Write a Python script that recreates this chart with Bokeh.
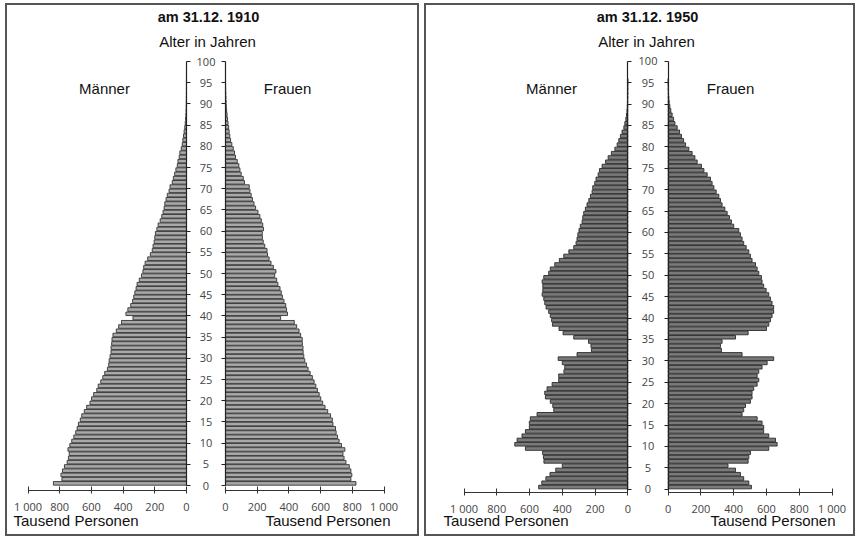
from bokeh.plotting import figure
from bokeh.models import Range1d, LinearAxis, FixedTicker, Label, ColumnDataSource
from bokeh.layouts import row
from bokeh.core.properties import value
from bokeh.embed import file_html
from bokeh.resources import INLINE

ages = list(range(96))

men_1910 = [840, 786, 792, 782, 770, 753, 745, 740, 748, 736,
            724, 711, 699, 690, 682, 670, 661, 645, 630, 609,
            599, 586, 566, 557, 541, 528, 516, 499, 491, 488,
            482, 476, 476, 472, 470, 464, 443, 428, 410, 338,
            382, 370, 352, 340, 333, 326, 318, 312, 298, 284,
            275, 270, 261, 245, 228, 216, 211, 204, 200, 196,
            187, 179, 166, 156, 148, 141, 137, 129, 121, 110,
            104, 90, 83, 75, 67, 58, 54, 46, 42, 33,
            27, 23, 19, 15, 11, 8, 6, 4, 3, 2,
            1.5, 1, 0.7, 0.5, 0.3, 0.2]
women_1910 = [823, 791, 797, 791, 781, 760, 748, 741, 753, 732,
              717, 707, 698, 694, 678, 674, 663, 645, 628, 613,
              601, 591, 580, 570, 559, 548, 534, 521, 511, 500,
              494, 490, 489, 485, 484, 474, 464, 449, 434, 348,
              391, 385, 380, 369, 359, 352, 344, 331, 323, 310,
              318, 302, 287, 275, 265, 262, 248, 238, 233, 232,
              240, 235, 226, 217, 205, 190, 180, 170, 162, 154,
              150, 120, 112, 99, 91, 84, 74, 63, 57, 49,
              40, 32, 27, 23, 20, 16, 13, 10, 7, 5,
              4, 3, 2, 1, 0.6, 0.3]
men_1950 = [544, 525, 500, 475, 440, 400, 512, 515, 520, 625,
            690, 676, 646, 625, 601, 601, 595, 554, 452, 458,
            473, 503, 507, 493, 462, 422, 422, 390, 385, 400,
            425, 310, 222, 225, 240, 330, 395, 420, 460, 465,
            473, 483, 499, 507, 513, 523, 519, 519, 523, 513,
            483, 473, 446, 418, 391, 360, 330, 316, 310, 305,
            298, 290, 279, 275, 269, 259, 249, 238, 228, 218,
            214, 202, 194, 181, 173, 157, 136, 120, 100, 79,
            65, 55, 45, 35, 24, 18, 12, 8, 5, 3,
            2, 1, 0.6, 0.4, 0.2, 0.1]
women_1950 = [508, 492, 461, 441, 411, 365, 488, 492, 502, 614,
              665, 655, 614, 583, 583, 573, 543, 451, 461, 472,
              502, 512, 512, 522, 543, 553, 543, 553, 573, 604,
              644, 451, 325, 319, 329, 411, 488, 600, 614, 624,
              634, 644, 644, 634, 624, 614, 598, 583, 573, 569,
              553, 543, 533, 512, 502, 492, 476, 461, 451, 441,
              431, 400, 386, 374, 360, 346, 329, 319, 309, 293,
              279, 268, 258, 238, 218, 203, 177, 163, 146, 126,
              106, 94, 81, 69, 55, 41, 33, 24, 16, 10,
              6, 4, 2, 1, 0.5, 0.3]

age_ticks = list(range(0, 101, 5))
value_ticks = [0, 200, 400, 600, 800, 1000]
value_labels = {1000: "1 000"}
titles = ["am 31.12. 1910", "am 31.12. 1950"]
age_title = "Alter in Jahren"
men_label = "Männer"
women_label = "Frauen"
unit_label = "Tausend Personen"

SANS = "Liberation Sans"
TICKF = "Open Sans"


def panel(title, men, women, W, H, cx, gap, kpx, y0, ypx, axis_y, fill, line,
          title_pos, alter_pos, men_pos, women_pos, unit_l, unit_r):
    xs = -cx / kpx
    xe = (W - cx) / kpx
    g = gap / 2.0 / kpx
    ytop = y0 / ypx
    ybot = -(H - y0) / ypx

    def d(px, py):
        return xs + px / kpx, ytop - py / ypx

    p = figure(width=W, height=H, x_range=Range1d(xs, xe), y_range=Range1d(ybot, ytop),
               x_axis_type=None, y_axis_type=None, toolbar_location=None,
               output_backend="svg", min_border=0, min_border_left=0, min_border_right=0,
               min_border_top=0, min_border_bottom=0)
    p.title.text = ""
    p.title.visible = False
    p.background_fill_color = "white"
    p.border_fill_color = "white"
    p.outline_line_color = "#555555"
    p.outline_line_width = 3
    p.xgrid.visible = False
    p.ygrid.visible = False

    p.extra_x_ranges = {"men": Range1d(-g - xs, -g - xe), "women": Range1d(xs - g, xe - g)}

    ymid = [a + 0.5 for a in ages]
    src = ColumnDataSource(dict(y=ymid, men=men, women=women))
    p.hbar(y="y", left=0, right="men", height=0.84, source=src, x_range_name="men",
           fill_color=fill, line_color=line, line_width=0.9)
    p.hbar(y="y", left=0, right="women", height=0.84, source=src, x_range_name="women",
           fill_color=fill, line_color=line, line_width=0.9)

    # age bracket axes
    blank = {t: "" for t in age_ticks}
    ax_l = LinearAxis(fixed_location=-g, bounds=(0, 100), ticker=FixedTicker(ticks=age_ticks),
                      major_tick_in=0, major_tick_out=4, minor_tick_in=0, minor_tick_out=0,
                      major_label_overrides=blank, axis_line_color="#222222",
                      major_tick_line_color="#222222", axis_line_width=1.2)
    p.add_layout(ax_l, "right")
    ax_r = LinearAxis(fixed_location=g, bounds=(0, 100), ticker=FixedTicker(ticks=age_ticks),
                      major_tick_in=0, major_tick_out=4, minor_tick_in=0, minor_tick_out=0,
                      major_label_overrides=blank, axis_line_color="#222222",
                      major_tick_line_color="#222222", axis_line_width=1.2)
    p.add_layout(ax_r, "left")

    p.text(x=[0] * len(age_ticks), y=age_ticks, text=[str(a) for a in age_ticks],
           text_align="center", text_baseline="middle", text_font=value(TICKF),
           text_font_size="11px", text_color="#444444")

    # value axes
    for rn in ("men", "women"):
        ax = LinearAxis(x_range_name=rn, fixed_location=axis_y, bounds=(0, 1000),
                        ticker=FixedTicker(ticks=value_ticks), major_label_overrides=value_labels,
                        major_tick_in=4, major_tick_out=3, minor_tick_in=0, minor_tick_out=0,
                        major_label_standoff=5, major_label_text_font=TICKF,
                        major_label_text_font_size="11px", major_label_text_color="#444444",
                        axis_line_color="#333333", major_tick_line_color="#333333")
        p.add_layout(ax, "below")

    def lab(text, pos, size, align="center", bold=False):
        x, y = d(*pos)
        p.add_layout(Label(x=x, y=y, text=text, text_align=align, text_baseline="middle",
                           text_font=SANS, text_font_size=size,
                           text_font_style="bold" if bold else "normal",
                           text_color="#111111"))

    lab(title, title_pos, "14.5px", bold=True)
    lab(age_title, alter_pos, "15px")
    lab(men_label, men_pos, "15px")
    lab(women_label, women_pos, "15px")
    lab(unit_label, unit_l, "15px", align="left")
    lab(unit_label, unit_r, "15px", align="right")
    return p


p1 = panel(titles[0], men_1910, women_1910, W=414, H=533, cx=200.5, gap=39, kpx=0.1585,
           y0=482, ypx=4.24, axis_y=-1.18, fill="#a9a9a9", line="#333333",
           title_pos=(203, 13.5), alter_pos=(202, 38), men_pos=(99, 85), women_pos=(282, 85),
           unit_l=(8, 517), unit_r=(385, 517))
p2 = panel(titles[1], men_1950, women_1950, W=431, H=533, cx=223.5, gap=40.4, kpx=0.1638,
           y0=485.7, ypx=4.28, axis_y=-0.8, fill="#7a7a7a", line="#2a2a2a",
           title_pos=(223, 13.5), alter_pos=(222, 38), men_pos=(127, 85), women_pos=(306, 85),
           unit_l=(19, 517), unit_r=(411, 517))

layout = row(p1, p2, spacing=5, margin=(3, 0, 0, 5))
open("out.html", "w").write(file_html(layout, INLINE))
